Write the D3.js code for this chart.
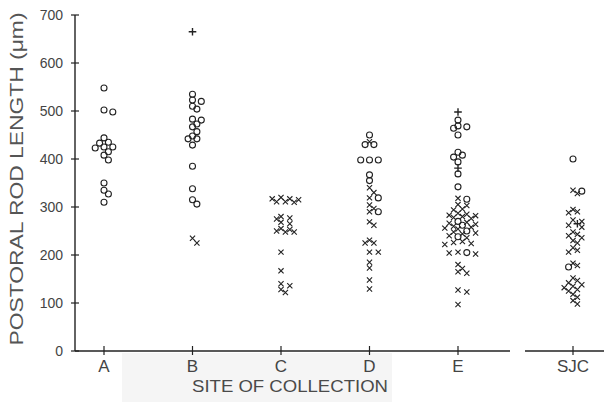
<!DOCTYPE html>
<html>
<head>
<meta charset="utf-8">
<script src="https://cdn.jsdelivr.net/npm/d3@7"></script>
<style>
  body { margin: 0; background: #fff; }
  text { font-family: "Liberation Sans", Arial, sans-serif; }
</style>
</head>
<body>
<svg id="chart" width="604" height="402"></svg>
<script>
// sites along the x axis (SJC sits on its own broken axis segment)
var mainSites = ["A", "B", "C", "D", "E"];
var sideSites = ["SJC"];
var yTicks = [0, 100, 200, 300, 400, 500, 600, 700];

// postoral rod lengths (um); o = circle, x = cross, + = plus
var siteA = [[548,"o"],[502,"o"],[498,"o"],[444,"o"],[435,"o"],[433,"o"],[425,"o"],[425,"o"],
  [423,"o"],[415,"o"],[408,"o"],[398,"o"],[350,"o"],[335,"o"],[327,"o"],[310,"o"]];
var siteB = [[665,"+"],[535,"o"],[523,"o"],[520,"o"],[510,"o"],[504,"o"],[483,"o"],[481,"o"],
  [473,"o"],[467,"o"],[457,"o"],[448,"o"],[442,"o"],[442,"o"],[429,"o"],[385,"o"],[338,"o"],
  [315,"o"],[306,"o"],[235,"x"],[225,"x"]];
var siteC = [[320,"x"],[317,"x"],[317,"x"],[315,"x"],[311,"x"],[311,"x"],[310,"x"],[280,"x"],
  [277,"x"],[275,"x"],[268,"x"],[265,"x"],[255,"x"],[253,"x"],[250,"x"],[248,"x"],[248,"x"],
  [206,"x"],[167,"x"],[140,"x"],[136,"x"],[128,"x"],[122,"x"]];
var siteD = [[450,"o"],[436,"x"],[430,"o"],[430,"o"],[398,"o"],[398,"o"],[398,"o"],[367,"o"],
  [355,"o"],[340,"x"],[330,"x"],[319,"x"],[319,"o"],[304,"x"],[297,"x"],[290,"x"],[290,"o"],
  [269,"x"],[262,"x"],[231,"x"],[225,"x"],[225,"x"],[206,"x"],[206,"x"],[185,"x"],[173,"x"],
  [148,"x"],[129,"x"]];
var siteE = [[498,"+"],[481,"o"],[469,"o"],[467,"o"],[464,"o"],[450,"o"],[414,"o"],[408,"o"],
  [404,"o"],[394,"o"],[381,"+"],[369,"o"],[342,"o"],[318,"x"],[316,"o"],[305,"x"],[303,"x"],
  [296,"x"],[294,"x"],[287,"x"],[285,"x"],[283,"x"],[282,"x"],[280,"x"],[278,"x"],[276,"x"],
  [270,"o"],[268,"x"],[266,"x"],[264,"x"],[262,"o"],[260,"x"],[258,"x"],[256,"x"],[254,"x"],
  [250,"o"],[248,"x"],[246,"x"],[244,"x"],[240,"x"],[238,"o"],[236,"x"],[228,"x"],[226,"x"],
  [224,"x"],[222,"x"],[206,"x"],[205,"o"],[204,"x"],[202,"x"],[180,"x"],[172,"x"],[165,"x"],
  [162,"x"],[127,"x"],[123,"x"],[97,"x"]];
var siteSJC = [[400,"o"],[335,"x"],[333,"o"],[328,"x"],[295,"x"],[290,"x"],[288,"x"],[273,"x"],
  [270,"x"],[265,"+"],[262,"x"],[258,"x"],[248,"x"],[243,"x"],[240,"x"],[236,"x"],[230,"x"],
  [225,"x"],[215,"x"],[210,"x"],[206,"x"],[183,"x"],[178,"x"],[175,"o"],[152,"x"],[147,"x"],
  [142,"x"],[138,"x"],[135,"x"],[132,"x"],[128,"x"],[125,"x"],[118,"x"],[112,"x"],[105,"x"],
  [98,"x"]];

var points = {A: siteA, B: siteB, C: siteC, D: siteD, E: siteE, SJC: siteSJC};

var svg = d3.select("#chart");

// layout
var axisX = 75, axisY = 351, topY = 15;
var mainEnd = 510, sideStart = 525, sideEnd = 604;

var y = d3.scaleLinear().domain([0, 700]).range([axisY, topY]);
var xMain = d3.scalePoint().domain(mainSites).range([104, 458]);
var xSide = d3.scalePoint().domain(sideSites).range([573, 573]);
function xPos(s) { return mainSites.indexOf(s) >= 0 ? xMain(s) : xSide(s); }

// faint scan shading under the axis
svg.append("rect")
  .attr("x", 122).attr("y", axisY + 2)
  .attr("width", 270).attr("height", 402 - axisY)
  .attr("fill", "#f5f5f5");

// y axis
var yAxis = svg.append("g");
yAxis.append("line")
  .attr("x1", axisX).attr("x2", axisX)
  .attr("y1", topY).attr("y2", axisY)
  .attr("stroke", "#222").attr("stroke-width", 1.4);
yAxis.selectAll(".ytick")
  .data(yTicks)
  .enter()
  .append("line")
  .attr("x1", axisX - 4).attr("x2", axisX + 4)
  .attr("y1", function(d) { return y(d); })
  .attr("y2", function(d) { return y(d); })
  .attr("stroke", "#222").attr("stroke-width", 1.2);
yAxis.selectAll(".ylab")
  .data(yTicks)
  .enter()
  .append("text")
  .attr("x", axisX - 12)
  .attr("y", function(d) { return y(d); })
  .attr("dy", "0.36em")
  .attr("text-anchor", "end")
  .attr("font-size", 14)
  .attr("fill", "#444")
  .text(function(d) { return d; });

// x axis, broken before SJC
svg.append("line")
  .attr("x1", axisX).attr("x2", mainEnd)
  .attr("y1", axisY).attr("y2", axisY)
  .attr("stroke", "#222").attr("stroke-width", 1.4);
svg.append("line")
  .attr("x1", sideStart).attr("x2", sideEnd)
  .attr("y1", axisY).attr("y2", axisY)
  .attr("stroke", "#222").attr("stroke-width", 1.4);

var allSites = mainSites.concat(sideSites);
svg.selectAll(".xtick")
  .data(allSites)
  .enter()
  .append("line")
  .attr("x1", xPos).attr("x2", xPos)
  .attr("y1", axisY - 5).attr("y2", axisY + 4)
  .attr("stroke", "#222").attr("stroke-width", 1.2);
svg.selectAll(".xlab")
  .data(allSites)
  .enter()
  .append("text")
  .attr("x", xPos)
  .attr("y", axisY + 21)
  .attr("text-anchor", "middle")
  .attr("font-size", 17)
  .attr("fill", "#444")
  .text(function(d) { return d; });

// axis titles
svg.append("text")
  .attr("x", 290).attr("y", 392)
  .attr("text-anchor", "middle")
  .attr("font-size", 17)
  .attr("fill", "#4a4a4a")
  .attr("textLength", 196)
  .attr("lengthAdjust", "spacingAndGlyphs")
  .text("SITE OF COLLECTION");
svg.append("text")
  .attr("transform", "translate(23,179) rotate(-90)")
  .attr("text-anchor", "middle")
  .attr("font-size", 18)
  .attr("fill", "#555")
  .attr("textLength", 333)
  .attr("lengthAdjust", "spacingAndGlyphs")
  .text("POSTORAL ROD LENGTH (\u03bcm)");

// greedy dodge so the marks spread sideways like the hand-made strip plot
var step = 4.4, minDist = 4.9;
function dodge(site) {
  var cx = xPos(site), placed = [];
  return points[site].map(function(p) {
    var py = y(p[0]);
    for (var k = 0; k < 20; k++) {
      var off = k === 0 ? 0 : (k % 2 ? 1 : -1) * Math.ceil(k / 2) * step;
      var ok = placed.every(function(q) {
        var dx = q.x - (cx + off), dy = q.y - py;
        return dx * dx + dy * dy >= minDist * minDist;
      });
      if (ok) break;
    }
    var d = {x: cx + off, y: py, mark: p[1]};
    placed.push(d);
    return d;
  });
}

var marks = [];
allSites.forEach(function(s) { marks = marks.concat(dodge(s)); });

var symbolPath = {
  "x": "M-2.6,-2.6L2.6,2.6M2.6,-2.6L-2.6,2.6",
  "+": "M-3.8,0H3.8M0,-3.8V3.8"
};

var g = svg.append("g");
g.selectAll("circle")
  .data(marks.filter(function(d) { return d.mark === "o"; }))
  .enter()
  .append("circle")
  .attr("cx", function(d) { return d.x; })
  .attr("cy", function(d) { return d.y; })
  .attr("r", 3)
  .attr("fill", "none")
  .attr("stroke", "#222")
  .attr("stroke-width", 1.1);
g.selectAll("path")
  .data(marks.filter(function(d) { return d.mark !== "o"; }))
  .enter()
  .append("path")
  .attr("transform", function(d) { return "translate(" + d.x + "," + d.y + ")"; })
  .attr("d", function(d) { return symbolPath[d.mark]; })
  .attr("fill", "none")
  .attr("stroke", "#222")
  .attr("stroke-width", function(d) { return d.mark === "+" ? 1.4 : 1.1; });
</script>
</body>
</html>
